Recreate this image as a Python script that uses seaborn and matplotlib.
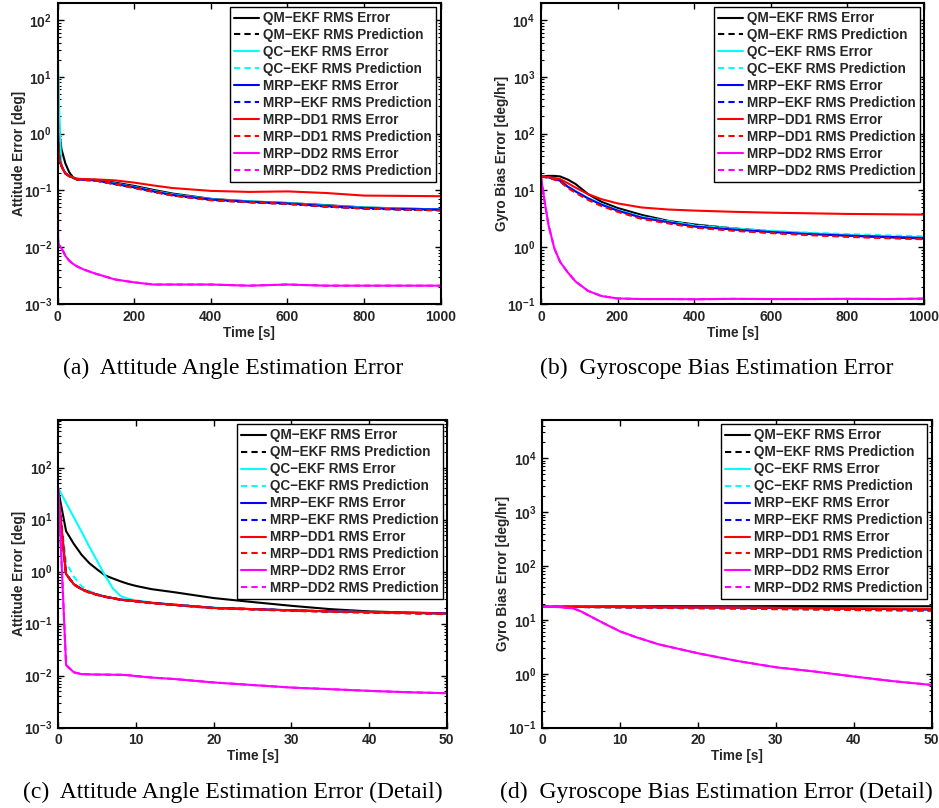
import numpy as np
import pandas as pd
import matplotlib
matplotlib.use("Agg")
import matplotlib.pyplot as plt
import seaborn as sns
from matplotlib.ticker import FixedLocator, FuncFormatter, LogLocator, NullLocator

# ---------------------------------------------------------------- legend / styles
labels = [
    "QM\u2212EKF RMS Error", "QM\u2212EKF RMS Prediction",
    "QC\u2212EKF RMS Error", "QC\u2212EKF RMS Prediction",
    "MRP\u2212EKF RMS Error", "MRP\u2212EKF RMS Prediction",
    "MRP\u2212DD1 RMS Error", "MRP\u2212DD1 RMS Prediction",
    "MRP\u2212DD2 RMS Error", "MRP\u2212DD2 RMS Prediction",
]
colors = ["#000000", "#000000", "#00FFFF", "#00FFFF", "#0000FF", "#0000FF",
          "#FF0000", "#FF0000", "#FF00FF", "#FF00FF"]

# ---------------------------------------------------------------- (a) attitude, 0-1000 s
t_att = [0, 1, 2, 4, 6, 10, 15, 20, 30, 40, 50, 70, 100, 150, 200, 250, 300,
         400, 500, 600, 700, 800, 900, 1000]
att_qm_err = [36, 7.7, 3.6, 1.4, 0.85, 0.53, 0.4, 0.3, 0.21, 0.17, 0.16, 0.156, 0.153,
              0.137, 0.12, 0.102, 0.088, 0.071, 0.064, 0.06, 0.055, 0.05, 0.048, 0.046]
att_qm_pred = [33, 1.0, 0.6, 0.42, 0.34, 0.27, 0.23, 0.2, 0.18, 0.166, 0.156, 0.153, 0.149,
               0.129, 0.112, 0.095, 0.082, 0.068, 0.062, 0.058, 0.052, 0.048, 0.046, 0.045]
att_qc_err = [40, 21, 11, 3.0, 0.85, 0.28, 0.23, 0.2, 0.18, 0.168, 0.158, 0.155, 0.151,
              0.132, 0.115, 0.098, 0.085, 0.07, 0.064, 0.06, 0.054, 0.05, 0.048, 0.046]
att_qc_pred = [30, 1.5, 0.8, 0.42, 0.34, 0.27, 0.23, 0.2, 0.18, 0.167, 0.157, 0.154, 0.15,
               0.13, 0.113, 0.096, 0.083, 0.069, 0.063, 0.059, 0.053, 0.049, 0.047, 0.045]
att_mrp_err = [30, 0.9, 0.57, 0.4, 0.33, 0.27, 0.23, 0.2, 0.18, 0.167, 0.157, 0.154, 0.15,
               0.13, 0.113, 0.096, 0.083, 0.069, 0.063, 0.059, 0.053, 0.049, 0.047, 0.046]
att_mrp_pred = [30, 0.9, 0.57, 0.4, 0.33, 0.27, 0.23, 0.2, 0.18, 0.166, 0.156, 0.153, 0.149,
                0.129, 0.112, 0.095, 0.082, 0.068, 0.062, 0.058, 0.052, 0.048, 0.046, 0.045]
att_dd1_err = [30, 0.9, 0.57, 0.4, 0.33, 0.27, 0.23, 0.2, 0.18, 0.168, 0.16, 0.158, 0.156,
               0.15, 0.137, 0.122, 0.11, 0.098, 0.094, 0.096, 0.09, 0.081, 0.08, 0.079]
att_dd1_pred = [30, 0.88, 0.56, 0.39, 0.32, 0.265, 0.225, 0.197, 0.177, 0.165, 0.155, 0.152,
                0.148, 0.128, 0.11, 0.094, 0.081, 0.067, 0.062, 0.058, 0.052, 0.048, 0.046, 0.044]
att_dd2_err = [40, 0.016, 0.0116, 0.0107, 0.0105, 0.0095, 0.0083, 0.0071, 0.0058, 0.0051,
               0.0046, 0.004, 0.0034, 0.0027, 0.0024, 0.0022, 0.0022, 0.0022, 0.0021,
               0.0022, 0.0021, 0.0021, 0.0021, 0.0021]
att_dd2_pred = [40, 0.016, 0.0116, 0.0107, 0.0105, 0.0095, 0.0083, 0.0071, 0.0058, 0.0051,
                0.0046, 0.004, 0.0034, 0.0027, 0.0024, 0.0022, 0.0022, 0.0022, 0.0021,
                0.0022, 0.0021, 0.0021, 0.0021, 0.0021]

# ---------------------------------------------------------------- (b) gyro bias, 0-1000 s
t_gyro = [0, 10, 20, 35, 50, 70, 90, 123, 158, 200, 263, 333, 403, 500, 600, 700, 800, 900, 1000]
gyro_qm_err = [17.6, 17.8, 18.0, 18.0, 17.6, 15.5, 13.0, 8.6, 6.3, 4.9, 3.7, 2.9, 2.5,
               2.15, 1.9, 1.75, 1.6, 1.5, 1.42]
gyro_qm_pred = [17.4, 17.2, 16.9, 15.8, 14.7, 11.5, 9.5, 7.1, 5.5, 4.35, 3.25, 2.7, 2.28,
                2.02, 1.82, 1.68, 1.57, 1.49, 1.43]
gyro_qc_err = [17.4, 17.3, 17.0, 15.9, 14.9, 11.8, 9.8, 7.4, 5.75, 4.5, 3.4, 2.8, 2.38,
               2.1, 1.9, 1.75, 1.64, 1.55, 1.48]
gyro_qc_pred = [17.4, 17.3, 17.0, 15.8, 14.8, 11.6, 9.6, 7.2, 5.6, 4.45, 3.4, 2.85, 2.42,
                2.15, 1.95, 1.8, 1.7, 1.62, 1.55]
gyro_mrp_err = [17.4, 17.3, 17.0, 15.8, 14.8, 11.6, 9.6, 7.2, 5.6, 4.4, 3.3, 2.75, 2.3,
                2.05, 1.85, 1.7, 1.6, 1.52, 1.45]
gyro_mrp_pred = [17.4, 17.2, 16.9, 15.7, 14.6, 11.4, 9.4, 7.0, 5.45, 4.3, 3.22, 2.68, 2.26,
                 2.0, 1.8, 1.66, 1.55, 1.47, 1.41]
gyro_dd1_err = [17.4, 17.3, 17.1, 16.5, 15.8, 13.4, 11.2, 8.6, 7.0, 5.9, 5.0, 4.6, 4.4,
                4.2, 4.05, 3.95, 3.85, 3.8, 3.75]
gyro_dd1_pred = [17.4, 17.2, 16.8, 15.5, 14.4, 11.0, 9.1, 6.8, 5.3, 4.2, 3.15, 2.62, 2.2,
                 1.95, 1.77, 1.63, 1.52, 1.44, 1.38]
gyro_dd2_err = [17.4, 6.1, 2.4, 0.95, 0.55, 0.36, 0.25, 0.17, 0.138, 0.125, 0.122, 0.122,
                0.121, 0.123, 0.122, 0.122, 0.123, 0.122, 0.124]
gyro_dd2_pred = [17.4, 6.1, 2.4, 0.95, 0.55, 0.36, 0.25, 0.17, 0.138, 0.125, 0.122, 0.122,
                 0.121, 0.123, 0.122, 0.122, 0.123, 0.122, 0.124]

# ---------------------------------------------------------------- (c) attitude, first 50 s
t_att_d = [0, 1, 2, 3, 4, 5, 6, 7, 8, 9, 10, 12, 15, 20, 25, 30, 35, 40, 45, 50]
attd_qm_err = [36, 6.0, 3.4, 2.1, 1.45, 1.1, 0.85, 0.74, 0.65, 0.58, 0.53, 0.46, 0.4, 0.31,
               0.26, 0.22, 0.19, 0.172, 0.163, 0.158]
attd_qm_pred = [30, 0.9, 0.57, 0.46, 0.4, 0.36, 0.33, 0.31, 0.29, 0.28, 0.27, 0.25, 0.23,
                0.2, 0.19, 0.18, 0.171, 0.165, 0.16, 0.155]
attd_qc_err = [40, 21, 11, 5.8, 3.0, 1.6, 0.85, 0.48, 0.34, 0.3, 0.28, 0.255, 0.232, 0.202,
               0.19, 0.18, 0.172, 0.167, 0.162, 0.157]
attd_qc_pred = [30, 1.5, 0.8, 0.52, 0.42, 0.37, 0.335, 0.31, 0.29, 0.28, 0.27, 0.25, 0.23,
                0.2, 0.19, 0.18, 0.171, 0.165, 0.16, 0.154]
attd_mrp_err = [30, 0.9, 0.57, 0.46, 0.4, 0.36, 0.33, 0.31, 0.29, 0.28, 0.27, 0.25, 0.23,
                0.2, 0.19, 0.18, 0.172, 0.167, 0.162, 0.157]
attd_mrp_pred = [30, 0.9, 0.57, 0.46, 0.4, 0.36, 0.33, 0.31, 0.29, 0.28, 0.27, 0.25, 0.23,
                 0.2, 0.19, 0.18, 0.171, 0.165, 0.16, 0.155]
attd_dd1_err = [30, 0.9, 0.57, 0.46, 0.4, 0.36, 0.33, 0.31, 0.29, 0.28, 0.27, 0.25, 0.23,
                0.2, 0.19, 0.18, 0.172, 0.167, 0.161, 0.156]
attd_dd1_pred = [30, 0.88, 0.56, 0.45, 0.39, 0.355, 0.325, 0.305, 0.285, 0.275, 0.265, 0.245,
                 0.226, 0.197, 0.186, 0.176, 0.168, 0.162, 0.157, 0.152]
attd_dd2_err = [40, 0.016, 0.0116, 0.0107, 0.0106, 0.0105, 0.0105, 0.0104, 0.0104, 0.0102,
                0.0098, 0.0092, 0.0086, 0.0074, 0.0066, 0.0059, 0.0055, 0.0051, 0.0048, 0.0046]
attd_dd2_pred = [40, 0.016, 0.0116, 0.0107, 0.0106, 0.0105, 0.0105, 0.0104, 0.0104, 0.0102,
                 0.0098, 0.0092, 0.0086, 0.0074, 0.0066, 0.0059, 0.0055, 0.0051, 0.0048, 0.0046]

# ---------------------------------------------------------------- (d) gyro bias, first 50 s
t_gyro_d = [0, 2, 4, 5, 6, 8, 10, 12, 15, 20, 25, 30, 35, 40, 45, 50]
gyrod_qm_err = [17.6, 17.6, 17.7, 17.7, 17.7, 17.8, 17.8, 17.8, 17.9, 17.9, 17.9, 18.0,
                18.0, 18.0, 17.9, 17.9]
gyrod_qm_pred = [17.4, 17.4, 17.4, 17.4, 17.3, 17.3, 17.2, 17.1, 17.0, 16.8, 16.6, 16.3,
                 16.0, 15.7, 15.4, 15.1]
gyrod_qc_err = [17.4, 17.4, 17.4, 17.4, 17.4, 17.3, 17.3, 17.2, 17.1, 17.0, 16.8, 16.6,
                16.4, 16.1, 15.8, 15.5]
gyrod_qc_pred = [17.4, 17.4, 17.3, 17.3, 17.2, 17.1, 17.0, 16.9, 16.7, 16.4, 16.1, 15.8,
                 15.5, 15.2, 14.8, 14.5]
gyrod_mrp_err = [17.4, 17.4, 17.4, 17.4, 17.4, 17.3, 17.3, 17.2, 17.1, 17.0, 16.8, 16.6,
                 16.4, 16.1, 15.8, 15.5]
gyrod_mrp_pred = [17.4, 17.4, 17.4, 17.4, 17.3, 17.3, 17.2, 17.1, 17.0, 16.8, 16.6, 16.3,
                  16.0, 15.7, 15.4, 15.1]
gyrod_dd1_err = [17.4, 17.4, 17.4, 17.4, 17.4, 17.4, 17.3, 17.3, 17.2, 17.1, 17.0, 16.8,
                 16.6, 16.4, 16.2, 16.0]
gyrod_dd1_pred = [17.4, 17.4, 17.3, 17.3, 17.2, 17.1, 17.0, 16.9, 16.7, 16.4, 16.1, 15.8,
                  15.5, 15.2, 15.0, 14.8]
gyrod_dd2_err = [17.5, 17.3, 16.3, 14.3, 12.0, 8.5, 6.1, 4.8, 3.5, 2.4, 1.73, 1.32, 1.1,
                 0.89, 0.73, 0.62]
gyrod_dd2_pred = [17.5, 17.3, 16.3, 14.3, 12.0, 8.5, 6.1, 4.8, 3.5, 2.4, 1.73, 1.32, 1.1,
                  0.89, 0.73, 0.62]

panels = [
    dict(t=t_att, series=[att_qm_err, att_qm_pred, att_qc_err, att_qc_pred, att_mrp_err,
                          att_mrp_pred, att_dd1_err, att_dd1_pred, att_dd2_err, att_dd2_pred],
         ylabel="Attitude Error [deg]", xticks=[0, 200, 400, 600, 800, 1000],
         ylim=(1e-3, 2.02e2), decades=range(-3, 3),
         pos=[0.0614, 0.6238, 0.4079, 0.3729], leg=(0.987, 0.985),
         caption="(a)  Attitude Angle Estimation Error", cap_xy=(233, 368)),
    dict(t=t_gyro, series=[gyro_qm_err, gyro_qm_pred, gyro_qc_err, gyro_qc_pred, gyro_mrp_err,
                           gyro_mrp_pred, gyro_dd1_err, gyro_dd1_pred, gyro_dd2_err, gyro_dd2_pred],
         ylabel="Gyro Bias Error [deg/hr]", xticks=[0, 200, 400, 600, 800, 1000],
         ylim=(1e-1, 2.02e4), decades=range(-1, 5),
         pos=[0.5761, 0.6238, 0.4079, 0.3729], leg=(0.9896, 0.985),
         caption="(b)  Gyroscope Bias Estimation Error", cap_xy=(717, 368)),
    dict(t=t_att_d, series=[attd_qm_err, attd_qm_pred, attd_qc_err, attd_qc_pred, attd_mrp_err,
                            attd_mrp_pred, attd_dd1_err, attd_dd1_pred, attd_dd2_err, attd_dd2_pred],
         ylabel="Attitude Error [deg]", xticks=[0, 10, 20, 30, 40, 50],
         ylim=(1e-3, 8.2e2), decades=range(-3, 3),
         pos=[0.0621, 0.0994, 0.4137, 0.3808], leg=(0.991, 0.986),
         caption="(c)  Attitude Angle Estimation Error (Detail)", cap_xy=(233, 792)),
    dict(t=t_gyro_d, series=[gyrod_qm_err, gyrod_qm_pred, gyrod_qc_err, gyrod_qc_pred, gyrod_mrp_err,
                             gyrod_mrp_pred, gyrod_dd1_err, gyrod_dd1_pred, gyrod_dd2_err, gyrod_dd2_pred],
         ylabel="Gyro Bias Error [deg/hr]", xticks=[0, 10, 20, 30, 40, 50],
         ylim=(1e-1, 5.1e4), decades=range(-1, 5),
         pos=[0.5775, 0.0994, 0.4147, 0.3808], leg=(0.987, 0.986),
         caption="(d)  Gyroscope Bias Estimation Error (Detail)", cap_xy=(716, 792)),
]

# ---------------------------------------------------------------- figure
sns.set_theme(style="ticks")
plt.rcParams["font.family"] = ["Liberation Sans", "DejaVu Sans"]
plt.rcParams["mathtext.fontset"] = "custom"
plt.rcParams["mathtext.rm"] = "Liberation Sans:bold"
plt.rcParams["mathtext.it"] = "Liberation Sans:bold"
plt.rcParams["mathtext.bf"] = "Liberation Sans:bold"

W, H = 939, 808
fig = plt.figure(figsize=(W / 100, H / 100), dpi=100)
fig.patch.set_facecolor("white")

dash = (0, (3, 2))
decade_fmt = FuncFormatter(lambda v, p: r"$\mathbf{10^{%d}}$" % int(round(np.log10(v))))

for pnl in panels:
    ax = fig.add_axes(pnl["pos"])
    ax.set_facecolor("white")
    for i, vals in enumerate(pnl["series"]):
        df = pd.DataFrame({"time": pnl["t"], "value": vals})
        sns.lineplot(data=df, x="time", y="value", ax=ax, color=colors[i],
                     linestyle="-" if i % 2 == 0 else dash, linewidth=1.5,
                     label=labels[i], legend=False, estimator=None, sort=False)
    ax.set_yscale("log")
    ax.set_xlim(pnl["xticks"][0], pnl["xticks"][-1])
    ax.set_ylim(*pnl["ylim"])
    ax.xaxis.set_major_locator(FixedLocator(pnl["xticks"]))
    ax.xaxis.set_minor_locator(NullLocator())
    ax.yaxis.set_major_locator(FixedLocator([10.0 ** d for d in pnl["decades"]]))
    ax.yaxis.set_major_formatter(decade_fmt)
    ax.yaxis.set_minor_locator(LogLocator(base=10, subs=np.arange(2, 10), numticks=60))
    ax.tick_params(which="both", direction="in", top=True, right=True, color="black")
    ax.tick_params(which="major", length=4, width=1.0, labelsize=10, pad=4)
    ax.tick_params(which="minor", length=2, width=0.8)
    for lab in ax.get_xticklabels():
        lab.set_fontweight("bold")
    for sp in ax.spines.values():
        sp.set_linewidth(1.5)
        sp.set_color("black")
        sp.set_visible(True)
    ax.set_xlabel("Time [s]", fontsize=9.8, fontweight="bold", labelpad=1.5)
    ax.set_ylabel(pnl["ylabel"], fontsize=9.8, fontweight="bold")
    ax_w_px = pnl["pos"][2] * W
    ax.yaxis.set_label_coords(-39.0 / ax_w_px, 0.5)
    ax.yaxis.label.set_verticalalignment("center")

    handles, hl = ax.get_legend_handles_labels()
    leg = ax.legend(handles, hl, loc="upper right", bbox_to_anchor=pnl["leg"],
                    borderaxespad=0, frameon=True, fancybox=False, framealpha=1,
                    edgecolor="black", prop={"size": 9.75, "weight": "bold"},
                    handlelength=1.85, handletextpad=0.3, labelspacing=0.22,
                    borderpad=0.3)
    leg.get_frame().set_linewidth(1.0)

    cx, cy = pnl["cap_xy"]
    fig.text(cx / W, 1 - cy / H, pnl["caption"], ha="center", va="center",
             family=["Liberation Serif", "DejaVu Serif"], fontsize=17, color="black")

fig.savefig("out.png", dpi=100, facecolor="white")
